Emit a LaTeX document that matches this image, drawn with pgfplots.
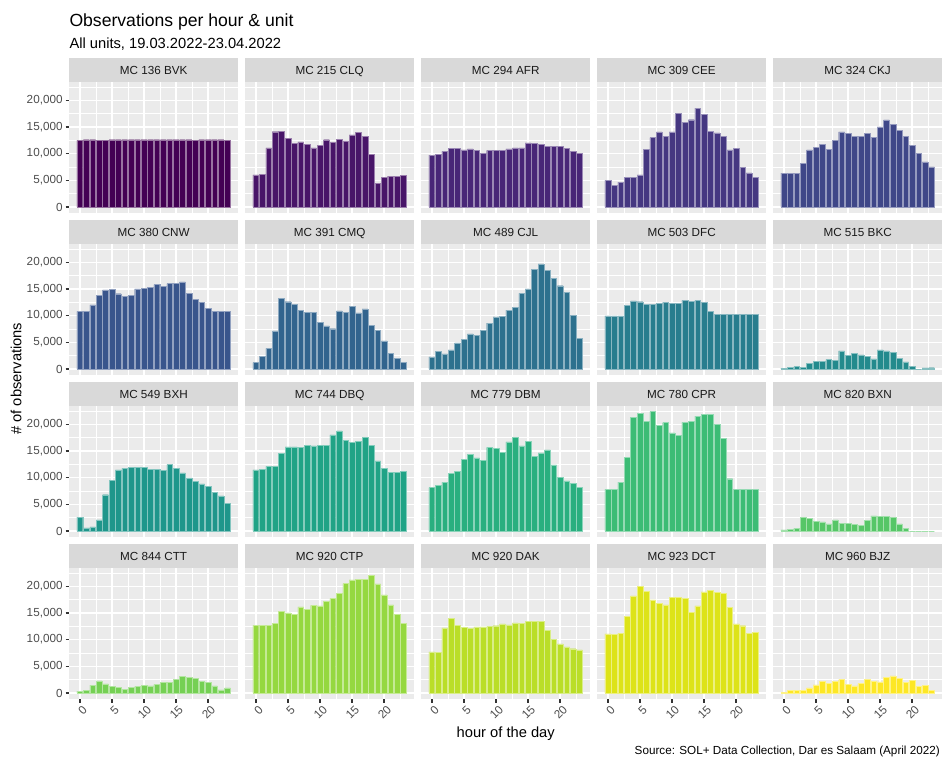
\documentclass[border=0pt]{standalone}
\usepackage{pgfplots}
\pgfplotsset{compat=1.18}
\usepackage{fontspec}
\setmainfont{Liberation Sans}
\definecolor{panelbg}{HTML}{EBEBEB}
\definecolor{stripbg}{HTML}{D9D9D9}
\definecolor{grey30}{HTML}{4D4D4D}
\definecolor{grey20}{HTML}{333333}
\definecolor{grey10}{HTML}{1A1A1A}
\definecolor{v1}{HTML}{440154}
\definecolor{v2}{HTML}{481568}
\definecolor{v3}{HTML}{482677}
\definecolor{v4}{HTML}{453781}
\definecolor{v5}{HTML}{3F4788}
\definecolor{v6}{HTML}{39558C}
\definecolor{v7}{HTML}{32648E}
\definecolor{v8}{HTML}{2D718E}
\definecolor{v9}{HTML}{287D8E}
\definecolor{v10}{HTML}{238A8D}
\definecolor{v11}{HTML}{1F968B}
\definecolor{v12}{HTML}{20A386}
\definecolor{v13}{HTML}{29AF7F}
\definecolor{v14}{HTML}{3CBC75}
\definecolor{v15}{HTML}{56C667}
\definecolor{v16}{HTML}{75D054}
\definecolor{v17}{HTML}{95D840}
\definecolor{v18}{HTML}{BADE28}
\definecolor{v19}{HTML}{DDE318}
\definecolor{v20}{HTML}{FDE725}
\newcommand{\smallfont}{\fontsize{11.7bp}{13bp}\selectfont}
\pgfplotsset{
  panel/.style={
    anchor=north west, width=168.7bp, height=131.3bp, scale only axis,
    xmin=-1.645, xmax=24.645, ymin=-1117.5, ymax=23467.5,
    ybar, bar width=0.9,
    axis background/.style={fill=panelbg},
    axis line style={draw=none},
    xtick={0,5,10,15,20}, minor xtick={2.5,7.5,12.5,17.5,22.5},
    ytick={0,5000,10000,15000,20000}, minor ytick={2500,7500,12500,17500,22500},
    xmajorgrids=true, ymajorgrids=true, xminorgrids=true, yminorgrids=true,
    major grid style={white, line width=1.42bp},
    minor grid style={white, line width=0.71bp},
    xticklabels={}, yticklabels={},
    xmajorticks=false, ymajorticks=false, xminorticks=false, yminorticks=false,
    major tick length=3.67bp, minor tick length=0pt, tick align=outside,
    xtick pos=left, ytick pos=left,
    tick style={grey20, line width=1.42bp},
    yticklabel style={font=\smallfont, text=grey30, anchor=east, inner sep=0pt, xshift=-2.9bp},
    xticklabel style={font=\smallfont, text=grey30, rotate=45, anchor=north east, inner sep=0pt, yshift=-2.9bp},
    every axis title/.style={at={(0.5,1)}, anchor=south, fill=stripbg, text=grey10,
      minimum width=168.7bp, minimum height=23.4bp, inner sep=0pt, outer sep=0pt,
      text height=8.4bp, text depth=0pt, font=\smallfont},
  },
  leftcol/.style={ymajorticks=true, yticklabels={0,{5,000},{10,000},{15,000},{20,000}}},
  bottomrow/.style={xmajorticks=true, xticklabels={0,5,10,15,20}},
}
\newcommand{\panel}[6]{%
\begin{axis}[panel, at={(#1bp,-#2bp)}, title={#4}, #5]
\addplot[fill=#3, draw=#3!55!white, line width=0.4bp] coordinates {#6};
\end{axis}}
\begin{document}
\begin{tikzpicture}
\path[use as bounding box] (0,0) rectangle (942bp,-758bp);
% Row 1
\panel{69.3}{81.7}{v1}{MC 136 BVK}{leftcol}{(0,12500) (1,12600) (2,12600) (3,12550) (4,12550) (5,12600) (6,12600) (7,12600) (8,12600) (9,12600) (10,12600) (11,12600) (12,12600) (13,12600) (14,12600) (15,12600) (16,12600) (17,12600) (18,12550) (19,12600) (20,12600) (21,12600) (22,12600) (23,12550)}
\panel{245.3}{81.7}{v2}{MC 215 CLQ}{}{(0,6000) (1,6100) (2,11100) (3,14100) (4,14200) (5,12800) (6,11900) (7,12200) (8,11800) (9,11100) (10,11600) (11,12600) (12,12100) (13,12700) (14,12400) (15,13500) (16,14000) (17,13300) (18,9900) (19,4500) (20,5600) (21,5800) (22,5700) (23,5900)}
\panel{421.3}{81.7}{v3}{MC 294 AFR}{}{(0,9700) (1,9900) (2,10400) (3,11000) (4,11050) (5,10700) (6,10900) (7,10600) (8,10100) (9,10600) (10,10550) (11,10550) (12,10900) (13,11100) (14,11100) (15,12000) (16,11950) (17,11750) (18,11400) (19,11350) (20,11350) (21,10950) (22,10400) (23,10000)}
\panel{597.3}{81.7}{v4}{MC 309 CEE}{}{(0,5000) (1,4050) (2,4650) (3,5600) (4,5550) (5,6000) (6,10750) (7,13000) (8,14050) (9,13250) (10,14050) (11,17500) (12,15850) (13,16350) (14,18500) (15,17400) (16,14150) (17,13900) (18,13250) (19,10700) (20,11000) (21,7400) (22,6400) (23,5600)}
\panel{773.3}{81.7}{v5}{MC 324 CKJ}{}{(0,6350) (1,6350) (2,6350) (3,8200) (4,10700) (5,11200) (6,11700) (7,10750) (8,12550) (9,14050) (10,13850) (11,13250) (12,13300) (13,13800) (14,13100) (15,15000) (16,16300) (17,15450) (18,14300) (19,13300) (20,11600) (21,10100) (22,8450) (23,7500)}
% Row 2
\panel{69.3}{243.7}{v6}{MC 380 CNW}{leftcol}{(0,10800) (1,10800) (2,12000) (3,13800) (4,14800) (5,14900) (6,14100) (7,13600) (8,13800) (9,15000) (10,15100) (11,15300) (12,15800) (13,15500) (14,16000) (15,16000) (16,16300) (17,14200) (18,13000) (19,12500) (20,11300) (21,10800) (22,10800) (23,10800)}
\panel{245.3}{243.7}{v7}{MC 391 CMQ}{}{(0,1200) (1,2350) (2,3850) (3,7150) (4,13250) (5,12600) (6,12150) (7,11050) (8,10600) (9,10550) (10,8700) (11,8100) (12,7550) (13,10900) (14,10550) (15,11800) (16,10500) (17,11250) (18,8150) (19,7200) (20,5250) (21,3000) (22,2050) (23,1250)}
\panel{421.3}{243.7}{v8}{MC 489 CJL}{}{(0,2300) (1,3350) (2,2850) (3,3600) (4,4900) (5,5600) (6,6600) (7,6300) (8,7300) (9,8600) (10,9750) (11,9850) (12,11050) (13,11500) (14,14150) (15,15000) (16,18650) (17,19700) (18,18450) (19,16950) (20,15600) (21,14300) (22,10050) (23,5750)}
\panel{597.3}{243.7}{v9}{MC 503 DFC}{}{(0,9950) (1,9950) (2,9950) (3,11900) (4,12750) (5,12600) (6,12100) (7,12100) (8,12300) (9,12500) (10,12350) (11,12300) (12,12850) (13,12700) (14,12850) (15,12500) (16,10800) (17,10200) (18,10200) (19,10200) (20,10200) (21,10200) (22,10200) (23,10200)}
\panel{773.3}{243.7}{v10}{MC 515 BKC}{}{(0,150) (1,300) (2,450) (3,300) (4,1100) (5,1400) (6,1500) (7,1750) (8,1650) (9,3400) (10,2550) (11,3000) (12,2650) (13,2350) (14,1900) (15,3600) (16,3400) (17,3100) (18,2050) (19,1350) (20,450) (21,0) (22,200) (23,250)}
% Row 3
\panel{69.3}{405.7}{v11}{MC 549 BXH}{leftcol}{(0,2600) (1,600) (2,800) (3,2100) (4,6800) (5,9550) (6,11450) (7,11750) (8,11900) (9,11950) (10,11900) (11,11600) (12,11600) (13,11350) (14,12450) (15,11700) (16,10900) (17,9950) (18,9350) (19,8850) (20,8350) (21,7250) (22,6600) (23,5250)}
\panel{245.3}{405.7}{v12}{MC 744 DBQ}{}{(0,11450) (1,11600) (2,12100) (3,12100) (4,14600) (5,15750) (6,15750) (7,15650) (8,16000) (9,15950) (10,16050) (11,16000) (12,18000) (13,18750) (14,17000) (15,16550) (16,16750) (17,17500) (18,16000) (19,13150) (20,11700) (21,11050) (22,11050) (23,11200)}
\panel{421.3}{405.7}{v13}{MC 779 DBM}{}{(0,8150) (1,8600) (2,9100) (3,10800) (4,11150) (5,13400) (6,14350) (7,13700) (8,13200) (9,15650) (10,15450) (11,14700) (12,16700) (13,17550) (14,15950) (15,16800) (16,13950) (17,14650) (18,15200) (19,12400) (20,10050) (21,9400) (22,8900) (23,8200)}
\panel{597.3}{405.7}{v14}{MC 780 CPR}{}{(0,7800) (1,7800) (2,9150) (3,13750) (4,21300) (5,22000) (6,20500) (7,22350) (8,19750) (9,20300) (10,18400) (11,17900) (12,20350) (13,20500) (14,21500) (15,21800) (16,21800) (17,20000) (18,17400) (19,9800) (20,7750) (21,7750) (22,7750) (23,7750)}
\panel{773.3}{405.7}{v15}{MC 820 BXN}{}{(0,200) (1,300) (2,550) (3,2600) (4,2350) (5,1750) (6,1700) (7,1350) (8,2100) (9,1450) (10,1450) (11,1250) (12,1050) (13,1950) (14,2850) (15,2700) (16,2800) (17,2550) (18,1350) (19,450) (20,0) (21,0) (22,0) (23,0)}
% Row 4
\panel{69.3}{567.7}{v16}{MC 844 CTT}{leftcol,bottomrow}{(0,350) (1,550) (2,1500) (3,2300) (4,1700) (5,1300) (6,1050) (7,750) (8,1100) (9,1200) (10,1400) (11,1350) (12,1600) (13,2050) (14,2050) (15,2600) (16,3100) (17,3000) (18,2700) (19,2250) (20,1950) (21,1350) (22,600) (23,950)}
\panel{245.3}{567.7}{v17}{MC 920 CTP}{bottomrow}{(0,12650) (1,12650) (2,12650) (3,13100) (4,15350) (5,15000) (6,14700) (7,16150) (8,15650) (9,16400) (10,16300) (11,17150) (12,17700) (13,18700) (14,20500) (15,21200) (16,21350) (17,21350) (18,22050) (19,20450) (20,18400) (21,16500) (22,14750) (23,13100)}
\panel{421.3}{567.7}{v18}{MC 920 DAK}{bottomrow}{(0,7700) (1,7600) (2,12200) (3,13950) (4,12650) (5,12250) (6,12150) (7,12400) (8,12400) (9,12450) (10,12600) (11,12950) (12,12750) (13,13150) (14,13100) (15,13450) (16,13450) (17,13450) (18,11700) (19,10100) (20,9200) (21,8650) (22,8300) (23,8100)}
\panel{597.3}{567.7}{v19}{MC 923 DCT}{bottomrow}{(0,11100) (1,10950) (2,11150) (3,14400) (4,18200) (5,20000) (6,19050) (7,17450) (8,16800) (9,16500) (10,17950) (11,17950) (12,17750) (13,15100) (14,16300) (15,18950) (16,19200) (17,18900) (18,18700) (19,16000) (20,12950) (21,12600) (22,11200) (23,11400)}
\panel{773.3}{567.7}{v20}{MC 960 BJZ}{bottomrow}{(0,100) (1,450) (2,450) (3,550) (4,950) (5,1550) (6,2200) (7,1750) (8,2250) (9,2500) (10,1600) (11,1350) (12,1750) (13,2550) (14,2250) (15,2100) (16,3000) (17,3200) (18,2750) (19,2050) (20,2350) (21,1250) (22,1500) (23,450)}
% Titles
\node[anchor=base west, inner sep=0pt, font=\fontsize{17.6bp}{20bp}\selectfont] at (69.3bp,-26bp) {Observations per hour \& unit};
\node[anchor=base west, inner sep=0pt, font=\fontsize{14.7bp}{17bp}\selectfont] at (69.3bp,-48bp) {All units, 19.03.2022-23.04.2022};
\node[rotate=90, inner sep=0pt, font=\fontsize{14.7bp}{17bp}\selectfont] at (16bp,-378.7bp) {\# of observations};
\node[anchor=base, inner sep=0pt, font=\fontsize{14.7bp}{17bp}\selectfont] at (505.7bp,-737bp) {hour of the day};
\node[anchor=base east, inner sep=0pt, font=\fontsize{11.7bp}{13bp}\selectfont] at (940bp,-754bp) {Source: SOL+ Data Collection, Dar es Salaam (April 2022)};
\end{tikzpicture}
\end{document}
